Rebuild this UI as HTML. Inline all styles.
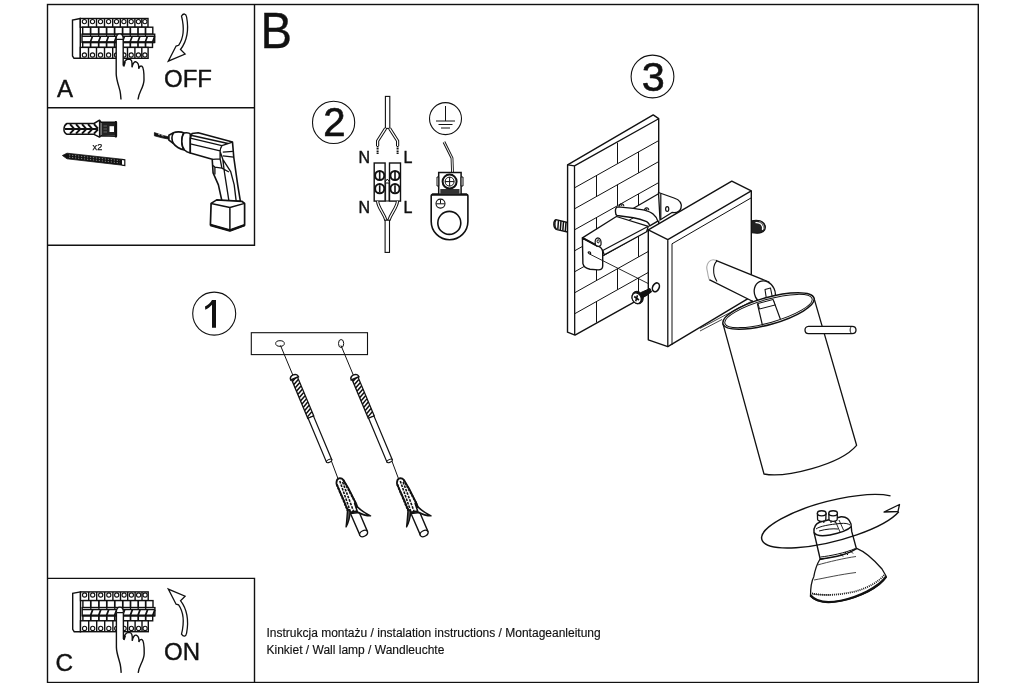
<!DOCTYPE html>
<html><head><meta charset="utf-8">
<style>
html,body{margin:0;padding:0;background:#fff;width:1024px;height:683px;overflow:hidden}
svg{display:block;will-change:transform}
text{font-family:"Liberation Sans",sans-serif;fill:#111}
</style></head>
<body>
<svg width="1024" height="683" viewBox="0 0 1024 683">
<defs>
<g id="breaker" fill="#fff" stroke="#111" stroke-width="1.4">
  <path d="M80.3,18.5 L72.5,20 L72.5,56 L74,58.3 L80.3,58.3 Z"/>
  <rect x="80.3" y="18.5" width="67.7" height="8.7"/>
  <rect x="82.7" y="27.2" width="70.1" height="7"/>
  <rect x="82" y="34.2" width="72.7" height="8.2"/>
  <rect x="82.7" y="42.4" width="69.8" height="5"/>
  <rect x="80.3" y="47.4" width="67.8" height="10.9"/>
  <g fill="none">
  <path d="M88.5,18.5V27.2M96.5,18.5V27.2M104.5,18.5V27.2M112.7,18.5V27.2M120.3,18.5V27.2M127.5,18.5V27.2M134.9,18.5V27.2M141.8,18.5V27.2M88.5,47.4V58.3M96.5,47.4V58.3M104.5,47.4V58.3M112.7,47.4V58.3M120.3,47.4V58.3M127.5,47.4V58.3M134.9,47.4V58.3M141.8,47.4V58.3"/>
  <path d="M90.6,27.2V34.2M98.7,27.2V34.2M106.6,27.2V34.2M114.6,27.2V34.2M122.6,27.2V34.2M130.3,27.2V34.2M138,27.2V34.2M145.5,27.2V34.2M90.6,42.4V47.4M98.7,42.4V47.4M106.6,42.4V47.4M114.6,42.4V47.4M122.6,42.4V47.4M130.3,42.4V47.4M138,42.4V47.4M145.5,42.4V47.4" stroke-width="1.7"/>
  <path d="M82,36.2H154.7"/>
  <path d="M82,42.2H154.7" stroke-width="2"/>
  <path d="M92.5,36.2L90.39999999999999,42M100.60000000000001,36.2L98.5,42M108.5,36.2L106.39999999999999,42M116.5,36.2L114.39999999999999,42M124.5,36.2L122.39999999999999,42M132.20000000000002,36.2L130.10000000000002,42M139.9,36.2L137.8,42M147.4,36.2L145.3,42M154.70000000000002,36.2L152.60000000000002,42" stroke-width="1.7"/>
  <path d="M90.6,34.2V36.2M98.7,34.2V36.2M106.6,34.2V36.2M114.6,34.2V36.2M122.6,34.2V36.2M130.3,34.2V36.2M138,34.2V36.2M145.5,34.2V36.2" stroke-width="1.2"/>
  </g>
  <g fill="none" stroke-width="1.1">
  <circle cx="84.4" cy="21.6" r="2.1"/><circle cx="84.4" cy="55" r="2.1"/><circle cx="92.5" cy="21.6" r="2.1"/><circle cx="92.5" cy="55" r="2.1"/><circle cx="100.5" cy="21.6" r="2.1"/><circle cx="100.5" cy="55" r="2.1"/><circle cx="108.6" cy="21.6" r="2.1"/><circle cx="108.6" cy="55" r="2.1"/><circle cx="116.5" cy="21.6" r="2.1"/><circle cx="116.5" cy="55" r="2.1"/><circle cx="123.9" cy="21.6" r="2.1"/><circle cx="123.9" cy="55" r="2.1"/><circle cx="131.2" cy="21.6" r="2.1"/><circle cx="131.2" cy="55" r="2.1"/><circle cx="138.4" cy="21.6" r="2.1"/><circle cx="138.4" cy="55" r="2.1"/><circle cx="144.9" cy="21.6" r="2.1"/><circle cx="144.9" cy="55" r="2.1"/>
  </g>
  <!-- hand -->
  <path d="M116.2,99.5 L116.2,74 L116.2,39 C116.2,35.5 117.8,33.8 119.7,33.8 C121.6,33.8 123.2,35.5 123.2,39 L123.2,65.6 C124,62 125.5,59.3 128.5,59 C131.5,59 132.5,61 132,67.4 C132.8,63 134.5,61.5 136,61.8 C138,62.5 139,65 138.7,68.7 C139.3,66.5 140.8,65.5 141.8,66.2 C143.8,67.5 144.1,72 144,80 C143.8,88 138.5,92 138,99.5 Z" stroke="none"/>
  <path d="M116.2,39 C116.2,35.5 117.8,33.8 119.7,33.8 C121.6,33.8 123.2,35.5 123.2,39 M116.3,39.3 H123.1" fill="none" stroke-width="1.2"/>
  <path d="M116.2,39 L116.2,74 C116.5,82 120,88 120.5,94 L121,99.5" fill="none" stroke-width="1.4"/>
  <path d="M123.2,39 L123.2,65.6 C124,62 125.5,59.3 128.5,59 C131.5,59 132.5,61 132,67.4 C132.8,63 134.5,61.5 136,61.8 C138,62.5 139,65 138.7,68.7 C139.3,66.5 140.8,65.5 141.8,66.2 C143.8,67.5 144.1,72 144,80 C143.8,88 138.5,92 138,99.5" fill="none" stroke-width="1.4"/>
  <path d="M125,62 L123.6,66.5" fill="none" stroke-width="1.8"/>
</g>
</defs>

<!-- frame -->
<g fill="none" stroke="#111" stroke-width="1.4">
  <rect x="47.5" y="4.5" width="930.8" height="678"/>
  <path d="M254.5,4.5 V245.2 H47.5 M47.5,107.7 H254.5 M47.5,578.4 H254.5 V683"/>
</g>

<!-- Panel A -->
<use href="#breaker"/>
<text x="57" y="96.5" font-size="24" stroke="#111" stroke-width="0.4">A</text>
<text x="164" y="86.7" font-size="24" stroke="#111" stroke-width="0.4">OFF</text>
<path id="arr" d="M181.5,16 C183.5,13 186,13.5 186.6,17 C189,30 187,41 180.5,49.5 L185.1,54 L168.3,61.1 L176.1,46 L178.6,45.3 C183,39 184.5,28 181.5,16 Z" fill="#fff" stroke="#111" stroke-width="1.3" stroke-linejoin="miter"/>

<!-- Panel C -->
<use href="#breaker" transform="translate(0.2,573.4)"/>
<text x="55.5" y="671" font-size="24.3" stroke="#111" stroke-width="0.4">C</text>
<text x="164" y="660" font-size="24" stroke="#111" stroke-width="0.4">ON</text>
<use href="#arr" transform="matrix(1,0,0,-1,0,650.2)"/>

<!-- Panel tools -->
<g id="tools">
  <!-- dowel -->
  <g stroke="#111" fill="#fff" stroke-linejoin="round">
    <path d="M94,123.5 L99.5,120.2 L101,122.3 L116.4,122.2 L116.4,136.3 L101,135.8 L99.5,137.1 L94,134.3 L67,134.3 C64.5,133 63.8,131 64,129 C64,127 64.5,124.8 67,123.5 Z" stroke-width="1.5"/>
    <path d="M70,124.2 L74,128.6 M70,133.6 L74,129.4 M76,124.2 L80,128.6 M76,133.6 L80,129.4 M82,124.2 L86,128.6 M82,133.6 L86,129.4 M88,124.2 L92,128.6 M88,133.6 L92,129.4 M94,124.2 L98,128.6 M94,133.6 L98,129.4 M65,129 H98" fill="none" stroke-width="2"/>
    <path d="M99.5,121 L99.5,137 M101,122.3 L101,135.8" fill="none" stroke-width="1.2"/>
    <rect x="102" y="123" width="13.5" height="12.6" fill="#222" stroke="none"/>
    <rect x="109.5" y="126.2" width="4.5" height="5.8" fill="#fff" stroke="none"/>
    <path d="M103.5,126 H107 M103.5,129 H107 M103.5,132 H107" stroke="#777" stroke-width="0.8"/>
    <path d="M115.8,121 V137.5" stroke-width="1.8"/>
  </g>
  <text x="92.6" y="149.6" font-size="9.2" stroke="#111" stroke-width="0.25">x2</text>
  <!-- screw -->
  <path d="M62.4,155.5 L67,153.2 L122,159.2 L122.2,165.2 L67,158.8 Z" fill="#111" stroke="#111" stroke-width="0.8" stroke-linejoin="round"/>
  <path d="M122,159.3 L124.8,159.8 L124.8,165.5 L122,165.2" fill="#fff" stroke="#111" stroke-width="1.2"/>
  <path d="M69,155 L120,160.6 M69,157.2 L120,162.9" stroke="#fff" stroke-width="0.5" stroke-dasharray="1.3,1.7"/>
  <!-- drill -->
  <g fill="#fff" stroke="#111" stroke-width="1.6" stroke-linejoin="round">
    <path d="M154.4,132.6 L162,135.2 L169,137 L169,139.2 L162,137.8 L154.4,135.8 Z" fill="#111" stroke-width="0.8"/>
    <path d="M158,134.2 L160,134.9 M161.5,135.4 L163.5,136" stroke="#fff" stroke-width="0.6"/>
    <path d="M168.9,135.2 L173.5,132.8 L173.5,143.5 L168.9,140.2 Z"/>
    <path d="M173.5,132.8 C176,131.5 181,131.5 184,133 C181,137 181,146 184.5,150 C180,149.5 175,146 173.5,143.5 C171.5,140 171.5,136 173.5,132.8 Z"/>
    <path d="M184,133 C187,132.5 189,132.5 190.3,134 L190.3,153.1 C188,152.5 186,151.5 184.5,150 C181,146 181,137 184,133 Z"/>
    <!-- body outline -->
    <path d="M190.3,138.2 L192,133.5 L198.2,132.8 L232.5,142.1 L233.8,157.5 L237.7,184.8 L240.4,201.3 L222,201.3 L218.4,184.8 L213.1,172.9 L212.2,159.3 L190.3,153.1 Z"/>
    <path d="M190.3,138.2 L221.9,145.7 L232.5,142.1 M192,135.5 L228,143.5 M190.3,143.9 L220.1,150.9 M221.9,145.7 C220.5,148 220.1,150 220.1,151.4 L220.1,158.8 L212.2,159.3 M222.8,152.2 L232.9,151.4 M222.8,155.8 L233.8,157.1 M220.1,151.4 L222.8,159.3 L230.7,171.6 L234.2,184.8 L236.2,201.3 M213.1,165.4 L214.9,167.2 L221.9,168.1 L228.9,172 M214.9,167.2 L214.9,174.5 M222.8,159.3 L224.4,172 L229,201.3 M220.1,158.8 L221.9,168.1" fill="none" stroke-width="1.35"/>
    <!-- battery -->
    <path d="M211.1,203.4 L216.7,199.9 L241.8,201.3 L244.6,203.4 L244.6,225.2 L229.9,230.5 L210.4,225 Z" stroke-width="1.7"/>
    <path d="M211.1,203.4 L229.9,207.5 L244.6,203.4 M229.9,207.5 L229.9,230.5" fill="none" stroke-width="1.5"/>
    <path d="M210.4,225 L229.9,230.5 L244.6,225.2" fill="none" stroke-width="2.4"/>
  </g>
</g>

<!-- B -->
<text transform="translate(260.6,47.8) scale(0.945,1)" font-size="50" stroke="#111" stroke-width="0.35">B</text>

<!-- Step 2 -->
<g id="step2">
  <circle cx="333.6" cy="122.4" r="21.1" fill="none" stroke="#111" stroke-width="1.1"/>
  <text x="323.2" y="135.8" font-size="40" stroke="#111" stroke-width="0.7">2</text>
  <g fill="#fff" stroke="#111" stroke-width="1.1">
    <rect x="385.4" y="96.4" width="4.4" height="32"/>
    <path d="M385.6,128.4 L377.6,141 L377.6,146 M389.6,128.4 L397.6,141 L397.6,146" fill="none" stroke-width="3.2"/>
    <path d="M385.6,128.4 L377.6,141 L377.6,146 M389.6,128.4 L397.6,141 L397.6,146" fill="none" stroke="#fff" stroke-width="1.2"/>
    <path d="M377.6,146 V154.5 M397.6,146 V154.5" stroke-width="2" stroke-dasharray="1.2,0.5"/>
    <rect x="374.2" y="163" width="10.9" height="38.1" stroke-width="1.4"/>
    <rect x="389.5" y="163" width="11" height="38.1" stroke-width="1.4"/>
    <path d="M385.1,182 L387.3,179 L389.5,182" fill="none" stroke-width="1"/>
    <rect x="385.6" y="183" width="3.4" height="18" fill="#fff" stroke-width="1"/>
    <g stroke-width="2">
      <circle cx="379.7" cy="175.5" r="4.6"/><circle cx="379.7" cy="188.7" r="4.6"/>
      <circle cx="395" cy="175.5" r="4.6"/><circle cx="395" cy="188.7" r="4.6"/>
    </g>
    <path d="M379.7,172V179M379.7,185.2V192.2M395,172V179M395,185.2V192.2" stroke-width="1.6"/>
    <path d="M377.6,201.1 C378,208 384,213 386,220.5 M397.5,201.1 C397,208 391,213 388.8,220.5" fill="none" stroke-width="3.2"/>
    <path d="M377.6,201.1 C378,208 384,213 386,220.5 M397.5,201.1 C397,208 391,213 388.8,220.5" fill="none" stroke="#fff" stroke-width="1.2"/>
    <rect x="385.1" y="220.2" width="4.4" height="32.2"/>
  </g>
  <text x="358.6" y="162.6" font-size="16" stroke="#111" stroke-width="0.4">N</text>
  <text x="403.6" y="162.6" font-size="16" stroke="#111" stroke-width="0.4">L</text>
  <text x="358.6" y="212.6" font-size="16" stroke="#111" stroke-width="0.4">N</text>
  <text x="403.6" y="212.6" font-size="16" stroke="#111" stroke-width="0.4">L</text>
  <!-- ground -->
  <g fill="#fff" stroke="#111" stroke-width="1.1">
    <circle cx="445.5" cy="118.6" r="16"/>
    <path d="M445.5,106 V121 M436,121 H455 M438.5,124.5 H452.5 M441,128 H450" fill="none" stroke-width="1"/>
    <path d="M444,142 L452,158 L452.5,172" fill="none" stroke-width="2.8"/>
    <path d="M444,142 L452,158 L452.5,172" fill="none" stroke="#fff" stroke-width="1"/>
    <path d="M431.2,196 Q431.2,194.2 433,194.2 L466.1,194.2 Q467.9,194.2 467.9,196 L467.9,221.4 A18.35,18.35 0 0 1 431.2,221.4 Z" stroke-width="1.6"/>
    <path d="M432,194.6 H467" stroke-width="2.2"/>
    <circle cx="449.3" cy="222.9" r="11.5" stroke-width="1.6"/>
    <circle cx="440.5" cy="203.6" r="4.5"/>
    <path d="M440.5,199.5 V203.6 M436.3,203.8 H444.7" fill="none" stroke-width="1"/>
    <rect x="438.7" y="172.5" width="22.4" height="21.7" stroke-width="1.5"/>
    <rect x="440.3" y="189" width="19.2" height="5.2" fill="#333" stroke="none"/>
    <path d="M437,177 H438.7 V186 H437 Z M461.1,177 H463 V186 H461.1 Z" stroke-width="1"/>
    <circle cx="449.6" cy="181.6" r="7" stroke-width="2"/>
    <circle cx="449.6" cy="181.6" r="4.5" stroke-width="1"/>
    <path d="M449.6,177 V186.2 M445,181.6 H454.2" fill="none" stroke-width="1"/>
  </g>
</g>

<!-- Step 1 -->
<g id="step1">
  <circle cx="214.2" cy="313.6" r="21.5" fill="none" stroke="#111" stroke-width="1.1"/>
  <path d="M212,299.9 H216 V327.7 H212 V304.8 C210.5,306.5 208,308.5 205.3,309.8 L205,306.5 C208,305 210.5,302.5 212,299.9 Z" fill="#111"/>
  <rect x="251.3" y="332.7" width="116.2" height="21.9" fill="#fff" stroke="#111" stroke-width="1.1"/>
  <ellipse cx="280" cy="343.5" rx="4.3" ry="2.8" fill="none" stroke="#111" stroke-width="1"/>
  <ellipse cx="341.1" cy="343.5" rx="2.6" ry="4" fill="none" stroke="#111" stroke-width="1"/>
  <g id="scr">
    <path d="M280.5,345.5 L293.5,376.7 M331,460 L338.5,480" stroke="#111" stroke-width="1" fill="none"/>
    <g transform="translate(293.8,376.5) rotate(-22.7)">
      <rect x="-3.2" y="0" width="6.4" height="44" fill="#fff" stroke="#111" stroke-width="1.3"/>
      <path d="M-3,4 L3,1 M-3,7.5 L3,4.5 M-3,11 L3,8 M-3,14.5 L3,11.5 M-3,18 L3,15 M-3,21.5 L3,18.5 M-3,25 L3,22 M-3,28.5 L3,25.5 M-3,32 L3,29 M-3,35.5 L3,32.5 M-3,39 L3,36 M-3,42.5 L3,39.5" stroke="#111" stroke-width="1.5"/>
      <path d="M-4.2,2 C-4.5,-3 4.5,-3 4.2,2 Z" fill="#fff" stroke="#111" stroke-width="1.5"/>
      <rect x="-2.9" y="44" width="5.8" height="47.5" fill="#fff" stroke="#111" stroke-width="1.2"/>
      <ellipse cx="0" cy="91.5" rx="2.9" ry="1.4" fill="#fff" stroke="#111" stroke-width="1"/>
    </g>
    <g stroke="#111" fill="#fff" stroke-linejoin="round">
      <path d="M350.5,513.5 L359.9,535.1 C362.5,536.5 366.5,534.8 367.5,531.6 L359.3,512.5 Z" stroke-width="1.4"/>
      <ellipse cx="363.6" cy="533.5" rx="4.2" ry="2.8" transform="rotate(-28 363.6 533.5)" stroke-width="1.3"/>
      <path d="M338.9,478.3 C341,478 342.5,478.8 343.2,479.8 L348.2,487.9 L351.7,494.9 L356.4,504.3 L358.5,511 L350,512.5 L347.6,510 L343.5,499.6 L340,492 L336.5,483.8 C336.3,481 337.3,478.8 338.9,478.3 Z" stroke-width="1.8"/>
      <path d="M336.8,484.5 L347.6,510.5 M343.2,480 L356.4,504.3" fill="none" stroke-width="2" stroke-dasharray="2.4,1"/>
      <path d="M339.8,481 L350.5,512 M342.6,482 L354,512.5" fill="none" stroke-width="1.6" stroke-dasharray="2.6,1.1"/>
      <path d="M354.6,503.5 C357,507.5 362,511.5 370.5,515.8 C366,515.8 361,514 357.5,512 Z" fill="#fff" stroke-width="1.5"/>
      <path d="M347.6,508.8 C347.2,515 346.8,521 346.1,526.9 C348.3,523 349.6,519 350.3,511.7 Z" fill="#555" stroke-width="1.4"/>
    </g>
  </g>
  <use href="#scr" transform="translate(60.5,0)"/>
</g>

<!-- Step 3 -->
<g id="step3" stroke="#111" fill="#fff" stroke-linejoin="round">
  <circle cx="652.5" cy="76.5" r="21.4" fill="none" stroke-width="1.1"/>
  <text x="641.7" y="90.9" font-size="41.5" stroke="#111" stroke-width="0.6">3</text>
  <!-- left stud -->
  <path d="M567.5,222.5 L557,219.8 C554.8,219.3 553.6,221.5 553.8,224.8 C554,227.8 555.5,229.2 557,229.6 L567.5,232" fill="#fff" stroke-width="1.3"/>
  <path d="M556,220.2 C554.2,221.5 554.5,228 556.5,229.3" fill="none" stroke-width="1.5"/>
  <path d="M558.5,220.3 L557.8,229.5 M561,221 L560.3,230.2 M563.5,221.7 L562.8,230.8 M566,222.3 L565.3,231.4" stroke-width="1.5"/>
  <!-- wall -->
  <path d="M567.6,164.8 L653.2,114.9 L658.7,118.7 L658.7,288.3 L575,335.1 L567.5,332.2 Z" stroke-width="1.4"/>
  <path d="M567.6,164.8 L574.5,165.9 L658.7,118.7 M574.5,165.9 L574.7,335" fill="none" stroke-width="1.3"/>
  <g stroke-width="1">
<line x1="574.6" y1="187.8" x2="658.7" y2="140.6"/>
<line x1="574.6" y1="208.8" x2="658.7" y2="161.6"/>
<line x1="574.6" y1="229.8" x2="658.7" y2="182.6"/>
<line x1="574.6" y1="250.8" x2="658.7" y2="203.6"/>
<line x1="574.6" y1="271.8" x2="658.7" y2="224.6"/>
<line x1="574.6" y1="292.8" x2="658.7" y2="245.6"/>
<line x1="574.6" y1="313.8" x2="658.7" y2="266.6"/>
<line x1="617.5" y1="142.7" x2="617.5" y2="163.7"/>
<line x1="596.5" y1="175.5" x2="596.5" y2="196.5"/>
<line x1="638.5" y1="151.9" x2="638.5" y2="172.9"/>
<line x1="617.5" y1="184.7" x2="617.5" y2="205.7"/>
<line x1="596.5" y1="217.5" x2="596.5" y2="238.5"/>
<line x1="638.5" y1="193.9" x2="638.5" y2="214.9"/>
<line x1="617.5" y1="226.7" x2="617.5" y2="247.7"/>
<line x1="596.5" y1="259.5" x2="596.5" y2="280.5"/>
<line x1="638.5" y1="235.9" x2="638.5" y2="256.9"/>
<line x1="617.5" y1="268.7" x2="617.5" y2="289.7"/>
<line x1="596.5" y1="301.5" x2="596.5" y2="322.5"/>
<line x1="638.5" y1="277.9" x2="638.5" y2="298.9"/>
  </g>
  <!-- channel back -->
  <path d="M633.1,208.5 L658.5,194 L660.8,219.4 L648.3,226.3 L630,216.5 Z" stroke="none"/>
  <path d="M633.1,208.5 L658.5,193.8" fill="none" stroke-width="1.3"/>
  <!-- back flange -->
  <path d="M658.5,192.5 L674,198 C680,200 682,204 681,208 C680,212 676,213 672,212.5 L660,220 Z" stroke-width="1.3"/>
  <path d="M660.8,193.5 V219.4" fill="none" stroke-width="1.2"/>
  <ellipse cx="667.2" cy="209.1" rx="1.6" ry="2.4" fill="none" stroke-width="1.2"/>
  <!-- bar -->
  <path d="M582.4,237.9 L616.4,216.5 L648.3,226.3 L646.6,231.8 L604.3,254.9 L602.7,250.5 Z" stroke-width="1.3"/>
  <path d="M602.7,250.5 L648.3,226.3" fill="none" stroke-width="1.2"/>
  <path d="M619.5,206.5 C619.5,203 623.8,203 623.8,206.2 M644.6,210.5 C644.6,207 648.8,207 648.8,210.3" fill="#fff" stroke-width="1.1"/>
  <circle cx="621.7" cy="205.3" r="0.7" fill="#111" stroke="none"/><circle cx="646.7" cy="209.4" r="0.7" fill="#111" stroke="none"/>
  <!-- strap -->
  <path d="M615.5,212 C615,208.5 616.5,206.9 618,206.9 L633.4,208.4 C640,209.3 644,210 646.7,210.8 C650,211.8 652.5,213 653.75,214.7 C656,216.5 657.3,218.5 657.8,221.1 L649.7,225.9 C649.5,224.5 648.5,222.8 646.7,221.7 C642,219.8 638,218.6 633.4,217.8 L617,215.5 C615.8,214.8 615.5,213.5 615.5,212 Z" stroke-width="1.4"/>
  <!-- front tab -->
  <path d="M582.4,237.9 L582.9,263.7 C583.5,266.5 586,268.5 590,269.2 L598,269.9 C601,270 602.7,268.5 602.7,265.9 L602.7,251.6 C602.3,248.5 600.5,246.8 597.8,246.1 Z" stroke-width="1.4"/>
  <path d="M582.4,237.9 L597.8,246.1" fill="none" stroke-width="2"/>
  <path d="M595.5,245 C594.5,241 595.5,237.8 597.8,237.8 C600.5,238 601.5,241 601,244.8 C600,247 597,246.5 595.5,245 Z" stroke-width="1.2"/>
  <ellipse cx="598.2" cy="241.3" rx="1.1" ry="1.6" fill="none" stroke-width="1"/>
  <path d="M590.5,254.5 C588,253.5 587.5,252 589,251.8 C590.5,251.8 591,253 590.5,254.5 Z" fill="none" stroke-width="1.1"/>
  <path d="M590.5,254.5 L655.7,287.3" fill="none" stroke-width="0.9"/>
  <!-- plate -->
  <path d="M648.3,229.8 L731.8,181.1 L751.3,190.9 L751.3,296.6 L667.8,346.7 L648.3,339.8 Z" stroke-width="1.4"/>
  <path d="M648.3,229.8 L667.8,239.6 L751.3,190.9 M667.8,239.6 L667.8,346.7" fill="none" stroke-width="1.3"/>
  <path d="M672,243.8 L751.3,197.8 M672,243.8 L672,345" fill="none" stroke-width="1"/>
  <ellipse cx="655.9" cy="287.3" rx="3.2" ry="4.6" transform="rotate(25 655.9 287.3)" fill="none" stroke-width="1.6"/>
  <!-- screw -->
  <path d="M641,292.5 L650,288.5 L651.5,292 L642.5,297.5 Z" fill="#111" stroke-width="1"/>
  <ellipse cx="637.6" cy="297.6" rx="5.4" ry="6.4" transform="rotate(-25 637.6 297.6)" fill="#111" stroke-width="1"/>
  <ellipse cx="636.6" cy="298.2" rx="4.4" ry="5.5" transform="rotate(-25 636.6 298.2)" stroke-width="1.2"/>
  <path d="M634.2,296.5 L639,300 M637.5,295.2 L635.7,301.2" fill="none" stroke-width="1.6"/>
  <!-- right stud -->
  <path d="M752,220.8 C757,219.5 764,220.5 765.3,226 C766,230.5 762.5,233.5 757,233.3 L752,232.8" fill="#222" stroke-width="1.1"/>
  <path d="M755.5,222.6 C760.5,222 763.5,225.5 762.5,230" fill="none" stroke="#fff" stroke-width="1.3"/>
  <path d="M759.5,221.6 C763,223 764.3,226 763.8,229" fill="none" stroke="#fff" stroke-width="0.6"/>
  <!-- arm joint -->
  <path d="M715.8,260.3 L769,282 L757,303.5 L709.2,279.6" stroke-width="1.3"/>
  <path d="M715.8,260.3 C710,258 705,264 707.5,272 C708,276 709,279 709.2,279.6" fill="none" stroke="#aaa" stroke-width="1.1"/>
  <path d="M717.1,261 C713,264 712,274 717,281.5" fill="none" stroke-width="1.1"/>
  <ellipse cx="764.8" cy="292.8" rx="10.2" ry="12.3" transform="rotate(-25 764.8 292.8)" stroke-width="1.3"/>
  <path d="M765,289.5 L770.5,288 L772.5,298 L766.5,299.5 Z" fill="#fff" stroke-width="1.1"/>
  <!-- cylinder -->
  <path d="M723,323.8 L764,474 C785,478 840,465 856.6,445.3 L814,298.1 Z" stroke-width="1.3"/>
  <ellipse cx="768.5" cy="311" rx="47.3" ry="13.5" transform="rotate(-15.8 768.5 311)" stroke-width="1.5"/>
  <ellipse cx="768.5" cy="311" rx="45.3" ry="11.6" transform="rotate(-15.8 768.5 311)" fill="none" stroke-width="1"/>
  <path d="M757.3,303.4 L762.5,325.5 M773.1,299.4 L780.4,319.2" fill="none" stroke-width="1.2"/>
  <path d="M758,303.5 L773,299.5 L775,305 L759.5,309 Z" fill="#fff" stroke-width="1"/>
  <path d="M700,328.4 L752.7,300.7 M700,331 L722,319.5" fill="none" stroke-width="0.8"/>
  <!-- rod -->
  <path d="M808.5,326.3 L852,326.3 C855,326.3 856,328.5 856,330 C856,331.5 855,333.6 852,333.6 L808.5,333.6 C806,333.6 805,331.5 805,330 C805,328.5 806,326.3 808.5,326.3 Z" stroke-width="1.3"/>
  <path d="M852,326.3 C849.5,327 849.5,333 852,333.6" fill="none" stroke-width="1"/>
</g>

<!-- bulb -->
<g id="bulb" stroke="#111" fill="#fff" stroke-linejoin="round">
  <!-- reflector -->
  <path d="M819.8,559.5 C830,557 846,553 856.7,548.3 C866,552 876,562 882,569 L886.3,576.5 C880,588 860,597 840,601 C828,603 816,602 810.5,596.4 C810.5,588 812,580 813.8,576.7 C815,570 817,564 819.8,559.5 Z" stroke-width="1.3"/>
  <path d="M810.5,595.2 C816,602 828,603.5 842,600.5 C858,597 878,588 886.3,576.5" fill="none" stroke-width="2.2"/>
  <path d="M812,593.5 C825,596 840,595 855,591.5 C868,588 880,581 884.5,574.5" fill="none" stroke-width="1.8" stroke-dasharray="1,1"/>
  <path d="M817.5,565 C828,562 845,558 856,556.5 M814,580 C825,578 840,574.5 856,572.5 M813,594 C816,594.5 822,595 830,595" fill="none" stroke-width="0.9" stroke="#333"/>
  <!-- neck -->
  <path d="M814,532.4 C813.5,527 816,523.5 820,522 L841.2,516.7 C846,516.5 849.5,519 851,524 L851.7,531.4 L856.4,548.6 C850,553 838,557 820.2,559 Z" stroke-width="1.4"/>
  <path d="M814,532.4 C816,536 822,536.5 830,535 C840,533 848,530 851.5,526.5" fill="none" stroke-width="1.5"/>
  <path d="M816,529 C820,526 830,524.5 840,523.5 C845,523 848,523.5 850,525 M819,531 C826,529 833,528.5 838,529" fill="none" stroke-width="1"/>
  <path d="M835.5,521.5 L840,532 M839,520 L843.5,530" fill="none" stroke-width="0.9"/>
  <path d="M820.5,557 C830,556 845,553 855.5,548.5 M840,553.5 L843,556.5 M845,552 L848,555 M850,550.5 L853,553.5" fill="none" stroke-width="1"/>
  <!-- pins -->
  <path d="M817.4,513.3 L817.6,519.5 C818,522 825.4,522 825.8,519.5 L826,513.3 Z" stroke-width="1.3"/>
  <ellipse cx="821.7" cy="513.3" rx="4.3" ry="2.6" stroke-width="1.4"/>
  <path d="M828.8,513.3 L829,519.5 C829.4,522 836.8,522 837.2,519.5 L837.4,513.3 Z" stroke-width="1.3"/>
  <ellipse cx="833.1" cy="513.3" rx="4.3" ry="2.6" stroke-width="1.4"/>
  <path d="M819.5,520.5 L819.5,523 M823.8,520.5 L823.8,523 M831,520.5 L831,523 M835.2,520.5 L835.2,523" fill="none" stroke-width="1.1"/>
  <!-- rotation ellipse -->
  <path d="M890.54,495.82 A72.4,20.3 -14.5 1 0 898.79,511.80" fill="none" stroke-width="1.4"/>
  <path d="M884,512 L899.5,504.5 L898,511.5 Z" stroke-width="1.3"/>
</g>

<text x="266.5" y="637.2" font-size="12" stroke="#111" stroke-width="0.15">Instrukcja montażu / instalation instructions / Montageanleitung</text>
<text x="266.5" y="653.6" font-size="12" stroke="#111" stroke-width="0.15">Kinkiet / Wall lamp / Wandleuchte</text>
</svg>
</body></html>
